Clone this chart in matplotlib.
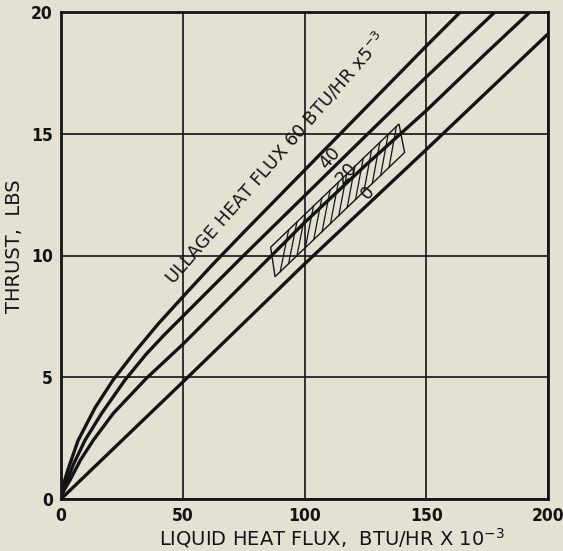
import numpy as np
import matplotlib
matplotlib.use("Agg")
import matplotlib.pyplot as plt
from matplotlib.patches import Polygon

# ---- data ----
x_60 = [0, 0.3, 1, 3, 7, 14, 21.4, 30, 40, 50, 62, 75, 100, 125, 150, 164]
y_60 = [0, 0.3, 0.6, 1.25, 2.4, 3.75, 4.89, 6.0, 7.2, 8.3, 9.6, 10.95, 13.5, 16.05, 18.6, 20]

x_40 = [0, 0.3, 1, 2.7, 5, 9.9, 16.7, 26.3, 35, 42, 50, 75, 100, 125, 150, 178.2]
y_40 = [0, 0.22, 0.45, 0.8, 1.4, 2.42, 3.52, 4.89, 5.95, 6.7, 7.5, 10.0, 12.45, 14.9, 17.33, 20]

x_20 = [0, 0.4, 1.2, 3.7, 8, 13.3, 21.5, 35, 50, 75, 100, 125, 150, 175, 192.6]
y_20 = [0, 0.15, 0.35, 0.78, 1.6, 2.42, 3.52, 4.95, 6.35, 8.85, 11.35, 13.7, 15.95, 18.35, 20]

x_0 = [0, 50, 100, 150, 200]
y_0 = [0, 4.8, 9.65, 14.35, 19.1]

# hatched data band (TL, TR, BR, BL)
band_x = [86.1, 138.8, 141.1, 87.9]
band_y = [10.34, 15.4, 14.23, 9.13]

x_ticks = [0, 50, 100, 150, 200]
y_ticks = [0, 5, 10, 15, 20]
curve_labels = ["40", "20", "0"]

# ---- styling ----
bg = "#e3e1d3"
ink = "#141414"
plt.rcParams['font.family'] = ['DejaVu Sans']

fig = plt.figure(figsize=(5.63, 5.51), dpi=100, facecolor=bg)
ax = fig.add_axes([61/563, 1-499/551, (548-61)/563, (499-12)/551])
ax.set_facecolor(bg)
ax.set_xlim(0, 200)
ax.set_ylim(0, 20)
ax.set_xticks(x_ticks)
ax.set_yticks(y_ticks)
ax.set_xticklabels([str(v) for v in x_ticks], fontsize=12.5, fontweight='bold',
                   color=ink, fontstretch='condensed')
ax.set_yticklabels([str(v) for v in y_ticks], fontsize=12.5, fontweight='bold',
                   color=ink, fontstretch='condensed')
ax.tick_params(axis='x', length=0, pad=6)
ax.tick_params(axis='y', length=0, pad=6)
ax.grid(True, color=ink, lw=1.2)
ax.set_axisbelow(True)
for s in ax.spines.values():
    s.set_linewidth(2.0)
    s.set_color(ink)

for xs, ys in [(x_60, y_60), (x_40, y_40), (x_20, y_20), (x_0, y_0)]:
    ax.plot(xs, ys, color=ink, lw=2.4, solid_capstyle='butt', solid_joinstyle='round')

# hatched band
poly = Polygon(list(zip(band_x, band_y)), closed=True, fill=False, ec=ink, lw=1.0)
ax.add_patch(poly)
TL = np.array([band_x[0], band_y[0]]); TR = np.array([band_x[1], band_y[1]])
BR = np.array([band_x[2], band_y[2]]); BL = np.array([band_x[3], band_y[3]])
for s in np.linspace(0.04, 0.88, 14):
    b = BL + s * (BR - BL)
    t = TL + min(s + 0.1, 1.0) * (TR - TL)
    ax.plot([b[0], t[0]], [b[1], t[1]], color=ink, lw=0.9)

# curve labels
ax.text(88, 14.0, "ULLAGE HEAT FLUX 60 BTU/HR x5$^{-3}$", rotation=49,
        ha='center', va='center', fontsize=13, color=ink, rotation_mode='anchor')
for lab, (lx, ly) in zip(curve_labels, [(110.5, 14.0), (117.3, 13.4), (126.0, 12.6)]):
    ax.text(lx, ly, lab, rotation=49, ha='center', va='center', fontsize=13,
            color=ink, rotation_mode='anchor')

ax.set_ylabel("THRUST,  LBS", fontsize=14, color=ink)
ax.yaxis.set_label_coords(-0.076, 0.52)
fig.text(332/563, 1-538/551, "LIQUID HEAT FLUX,  BTU/HR X 10$^{-3}$", ha='center',
         va='center', fontsize=14, color=ink)

fig.savefig("out.png", dpi=100, facecolor=bg)
